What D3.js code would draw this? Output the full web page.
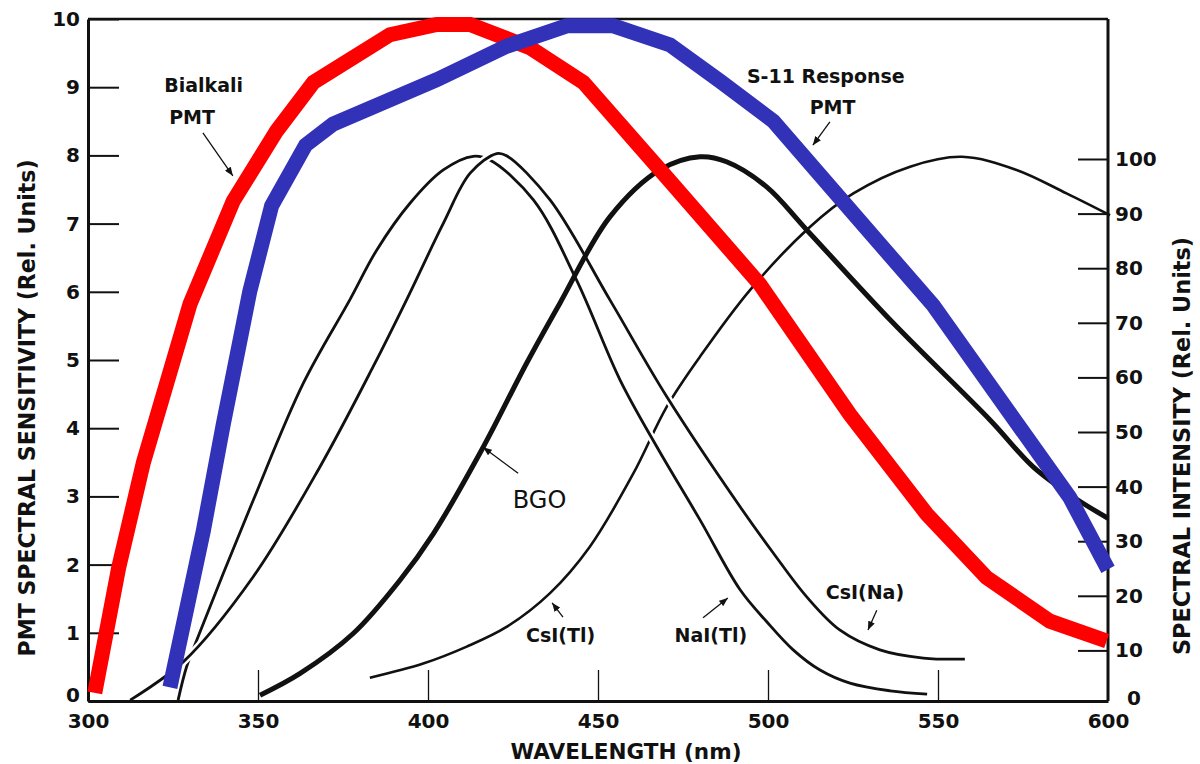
<!DOCTYPE html>
<html><head><meta charset="utf-8">
<script src="https://cdn.jsdelivr.net/npm/d3@7"></script>
<style>body{margin:0;background:#fff}svg{display:block}</style>
</head><body><svg id="c" width="1200" height="764"></svg>
<script>
// ---------- data ----------
const xTicks = [300, 350, 400, 450, 500, 550, 600];
const leftTicks = [0,1,2,3,4,5,6,7,8,9,10];
const rightTicks = [0,10,20,30,40,50,60,70,80,90,100];

// PMT spectral sensitivity (left axis, rel. units) : [wavelength nm, value]
const bialkali = [[302,0.12],[309,1.95],[316.3,3.5],[330,5.82],[342.7,7.33],[355.5,8.36],[366.3,9.07],[388.8,9.77],[402.6,9.92],[412.4,9.92],[430,9.58],[445.7,9.07],[471.2,7.62],[497.6,6.11],[524.1,4.2],[546.7,2.74],[564.3,1.81],[582.9,1.17],[599.6,0.88]];
const s11 = [[324.1,0.2],[333.9,2.49],[339.8,4.06],[347.6,6.01],[354,7.26],[364,8.15],[372.1,8.46],[402.6,9.11],[423.1,9.6],[440.8,9.9],[454.5,9.9],[471.2,9.62],[485.9,9.09],[501.6,8.5],[520.2,7.43],[548.6,5.8],[588.8,2.98],[600,1.93]];

// Scintillator spectral intensity (right axis, rel. units)
const naiTl = [[326.5,0.9],[329,7],[332,11.9],[348.6,37.5],[363.3,58.9],[377,74.2],[384.9,83.3],[394.7,91.9],[404.5,98],[413.3,100.5],[418.2,99.8],[431,92.5],[443.7,77.8],[456.5,59.5],[467.3,47.3],[480,33.9],[491.8,21.1],[499.7,15.2],[507.4,10.1],[515.3,6.4],[524.1,4.0],[535.9,2.6],[546.8,2.0]];
const csiNa = [[312.4,0.9],[328,7.9],[348.6,23.5],[368.2,43.6],[383.9,62],[393.7,74.2],[404.5,88.2],[412.4,97.4],[420.2,101],[423.1,100.6],[435.9,92.5],[453.5,74.2],[470.2,56.5],[491.8,36.3],[501.6,27.8],[511.4,19.8],[521.2,13.7],[532.9,10.1],[545.7,8.6],[557.9,8.4]];
const bgo = [[350.6,1.8],[362.4,5.8],[378,13.1],[391.8,22.9],[401.6,31.4],[416.3,47.3],[429,62.6],[438.8,73.6],[453.5,89.4],[468.2,98],[480,100.4],[487.8,99.5],[499.6,94.9],[511.4,87],[536.9,69.9],[565.3,52.2],[578,43.6],[589.8,38.1],[600,34.2]];
const csiTl = [[382.9,5.0],[398.6,7.6],[411.4,10.7],[423.1,14.3],[435.9,20.5],[447.6,29],[460.4,42.4],[470.2,54.6],[480,63.8],[494.7,76],[512.4,87.6],[525.1,93.7],[541.8,98.6],[557,100.4],[573.1,98],[587.8,93.7],[600.6,89.7]];

// ---------- drawing ----------
const FONT = "'DejaVu Sans', sans-serif";
const svg = d3.select("#c");
const x = d3.scaleLinear().domain([300, 600]).range([88, 1108]);
const yL = d3.scaleLinear().domain([0, 10]).range([701, 19]);
const yR = d3.scaleLinear().domain([0, 100]).range([705, 159]);

svg.append("defs").append("marker")
  .attr("id","ah").attr("viewBox","0 0 10 8").attr("refX",10).attr("refY",4)
  .attr("markerWidth",9).attr("markerHeight",7).attr("markerUnits","userSpaceOnUse")
  .attr("orient","auto")
  .append("path").attr("d","M0,0 L10,4 L0,8 Z").attr("fill","#111");

const lineR = d3.line().x(d => x(d[0])).y(d => yR(d[1])).curve(d3.curveCatmullRom.alpha(0.5));
const lineL = d3.line().x(d => x(d[0])).y(d => yL(d[1])).curve(d3.curveLinear);

function crystal(data, w, halo) {
  if (halo) svg.append("path").attr("d", lineR(data)).attr("fill","none")
    .attr("stroke","#fff").attr("stroke-width", w + 5);
  svg.append("path").attr("d", lineR(data)).attr("fill","none")
    .attr("stroke","#111").attr("stroke-width", w).attr("stroke-linecap","butt");
}
crystal(csiTl, 2.6, false);
crystal(naiTl, 2.8, true);
crystal(csiNa, 2.8, true);
crystal(bgo, 5, false);

// axes
function styleAxis(g, tickW) {
  g.selectAll(".tick line").attr("stroke","#111").attr("stroke-width", tickW);
  g.selectAll(".tick text").attr("fill","#111").attr("font-family",FONT)
    .attr("font-weight","bold").attr("font-size",20);
}
const gx = svg.append("g").attr("transform",`translate(0,${yL(0)})`)
  .call(d3.axisBottom(x).tickValues(xTicks).tickSize(-31).tickSizeOuter(0).tickPadding(13));
gx.select(".domain").attr("stroke","#111").attr("stroke-width",3);
styleAxis(gx, 1.3);
gx.selectAll(".tick").filter(d => d === 300 || d === 600).select("line").remove();

const gl = svg.append("g").attr("transform",`translate(${x(300)},0)`)
  .call(d3.axisLeft(yL).tickValues(leftTicks).tickSize(-31).tickSizeOuter(0).tickPadding(8));
gl.select(".domain").attr("stroke","#111").attr("stroke-width",3);
styleAxis(gl, 2);
gl.selectAll(".tick").filter(d => d === 0).select("text").attr("transform","translate(0,-6)");

const gr = svg.append("g").attr("transform",`translate(${x(600)},0)`)
  .call(d3.axisRight(yR).tickValues(rightTicks).tickSize(-30).tickSizeOuter(0).tickPadding(7));
gr.select(".domain").remove();
styleAxis(gr, 2);
gr.selectAll(".tick").filter(d => d === 0).select("line").remove();
gr.selectAll(".tick").filter(d => d === 0).select("text").attr("transform","translate(12,-7)");

svg.append("line").attr("x1",x(600)).attr("x2",x(600)).attr("y1",yL(10)).attr("y2",yL(0))
  .attr("stroke","#111").attr("stroke-width",3);
svg.append("line").attr("x1",x(300)).attr("x2",x(600)).attr("y1",yL(10)).attr("y2",yL(10))
  .attr("stroke","#111").attr("stroke-width",2.5);

// PMT curves
svg.append("path").attr("d", lineL(bialkali)).attr("fill","none")
  .attr("stroke","#ff0000").attr("stroke-width",15).attr("stroke-linejoin","miter").attr("stroke-linecap","butt");
svg.append("path").attr("d", lineL(s11)).attr("fill","none")
  .attr("stroke","#3232b9").attr("stroke-width",15).attr("stroke-linejoin","miter").attr("stroke-linecap","butt");

// axis titles
svg.append("text").attr("transform","translate(35,408) rotate(-90)")
  .attr("text-anchor","middle").attr("font-family",FONT).attr("font-weight","bold")
  .attr("font-size",23).attr("textLength",497).attr("lengthAdjust","spacingAndGlyphs")
  .attr("fill","#111").text("PMT SPECTRAL SENSITIVITY (Rel. Units)");
svg.append("text").attr("transform","translate(1190,446) rotate(-90)")
  .attr("text-anchor","middle").attr("font-family",FONT).attr("font-weight","bold")
  .attr("font-size",23).attr("textLength",418).attr("lengthAdjust","spacingAndGlyphs")
  .attr("fill","#111").text("SPECTRAL INTENSITY (Rel. Units)");
svg.append("text").attr("x",626).attr("y",759)
  .attr("text-anchor","middle").attr("font-family",FONT).attr("font-weight","bold")
  .attr("font-size",22).attr("textLength",231).attr("lengthAdjust","spacingAndGlyphs")
  .attr("fill","#111").text("WAVELENGTH (nm)");

// annotations
function label(txt, nm, v, size, weight) {
  svg.append("text").attr("x", x(nm)).attr("y", yL(v)).attr("text-anchor","middle")
    .attr("font-family", FONT).attr("font-weight", weight).attr("font-size", size)
    .attr("fill","#111").text(txt);
}
function arrow(n1, v1, n2, v2) {
  svg.append("line").attr("x1", x(n1)).attr("y1", yL(v1)).attr("x2", x(n2)).attr("y2", yL(v2))
    .attr("stroke","#111").attr("stroke-width",1.3).attr("marker-end","url(#ah)");
}
label("Bialkali", 334, 8.93, 19, "bold");
label("PMT", 330.6, 8.46, 19, "bold");
arrow(333.8, 8.33, 342.6, 7.70);
label("S-11 Response", 517, 9.06, 19, "bold");
label("PMT", 519, 8.61, 19, "bold");
arrow(518.2, 8.49, 513.2, 8.15);
label("BGO", 432.8, 2.83, 24, "normal");
arrow(426.5, 3.34, 416.2, 3.72);
label("CsI(Tl)", 439, 0.865, 19, "bold");
arrow(439.7, 1.23, 436.5, 1.44);
label("NaI(Tl)", 483.2, 0.865, 19, "bold");
arrow(480.9, 1.22, 488.2, 1.51);
label("CsI(Na)", 528.5, 1.50, 19, "bold");
arrow(532, 1.33, 529.4, 1.04);
</script>
</body></html>
